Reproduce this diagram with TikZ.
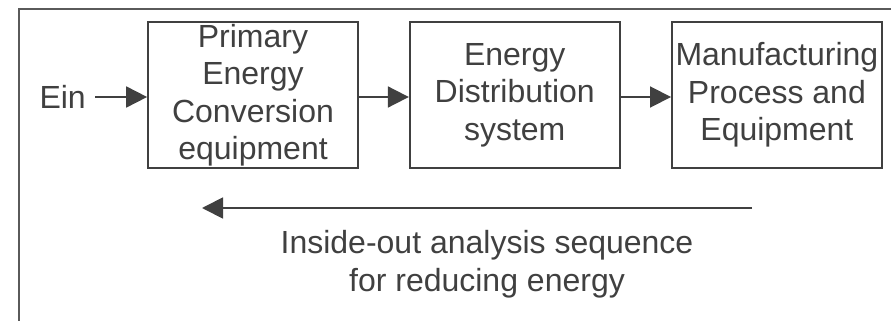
\documentclass[tikz,border=0pt]{standalone}
\usepackage{fontspec}
\setmainfont{Liberation Sans}
\definecolor{gray1}{RGB}{64, 64, 64}
\definecolor{gray2}{RGB}{90, 90, 90}
\usetikzlibrary{shapes, arrows.meta, positioning, calc}

\begin{document}
\begin{tikzpicture}[x=1pt, y=-1pt,
  stage/.style={draw=gray1, line width=1.7pt, minimum width=210pt, minimum height=146pt, inner sep=0pt, align=center, text=gray1},
  flow/.style={draw=gray1, line width=1.8pt, -{Triangle[length=21pt, width=21pt]}},
  font=\fontsize{32}{37.5}\selectfont]
  \useasboundingbox (0,0) rectangle (891,321);
  % frame
  \draw[gray2, line width=1.7pt] (19,321) -- (19,9) -- (891,9);

  \node[stage] (primary) at (253,95) {Primary\\Energy\\Conversion\\equipment};
  \node[stage, right=50pt of primary] (dist) {Energy\\Distribution\\system};
  \node[stage, right=50.5pt of dist] (manuf) {Manufacturing\\Process and\\Equipment};
  \node[text=gray1, anchor=east, inner sep=0pt] (ein) at (86,97) {Ein};

  \draw[flow] ($(ein.east)+(9,0)$) -- (ein.east -| primary.west);
  \draw[flow] (primary.east |- 0,97) -- (dist.west |- 0,97);
  \draw[flow] (dist.east |- 0,97) -- (manuf.west |- 0,97);

  % analysis direction
  \coordinate (start) at (752,208);
  \coordinate (stop) at (202,208);
  \draw[flow] (start) -- (stop);
  \node[text=gray1, align=center, inner sep=0pt] (note) at (487,264) {Inside-out analysis sequence\\for reducing energy};
\end{tikzpicture}
\end{document}
